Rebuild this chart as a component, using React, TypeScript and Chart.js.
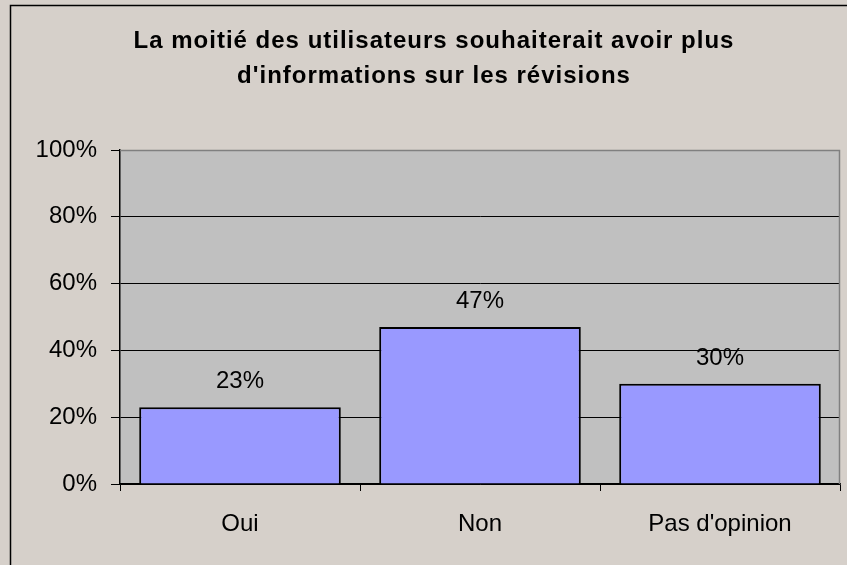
import React, { useEffect, useRef } from "react";
import { Chart, registerables } from "chart.js";

Chart.register(...registerables);

const categories = ["Oui", "Non", "Pas d'opinion"];
const values = [23, 47, 30];
const yTicks = [0, 20, 40, 60, 80, 100];
const titleLines = [
  "La moitié des utilisateurs souhaiterait avoir plus",
  "d'informations sur les révisions",
];

const W = 847;
const H = 565;
const FONT = "'Liberation Sans', Arial, sans-serif";

const framePlugin = {
  id: "frame",
  beforeDraw(chart: any) {
    const { ctx, chartArea } = chart;
    ctx.save();
    ctx.fillStyle = "#D6D0CA";
    ctx.fillRect(0, 0, W, H);
    ctx.fillStyle = "#C0C0C0";
    ctx.fillRect(chartArea.left, chartArea.top, chartArea.right - chartArea.left, chartArea.bottom - chartArea.top);
    ctx.strokeStyle = "#000000";
    ctx.lineWidth = 1.5;
    ctx.beginPath();
    ctx.moveTo(10.5, H);
    ctx.lineTo(10.5, 5.5);
    ctx.lineTo(W, 5.5);
    ctx.stroke();
    // title
    ctx.fillStyle = "#000000";
    ctx.font = `bold 24px ${FONT}`;
    ctx.textAlign = "center";
    ctx.textBaseline = "alphabetic";
    (ctx as any).letterSpacing = "1px";
    titleLines.forEach((line, i) => {
      ctx.fillText(line, 434, 48 + i * 35);
    });
    (ctx as any).letterSpacing = "0px";
    ctx.restore();
  },
  afterDatasetsDraw(chart: any) {
    const { ctx, chartArea } = chart;
    ctx.save();
    ctx.strokeStyle = "#808080";
    ctx.lineWidth = 1.5;
    ctx.beginPath();
    ctx.moveTo(chartArea.left, chartArea.top + 0.5);
    ctx.lineTo(chartArea.right - 0.5, chartArea.top + 0.5);
    ctx.lineTo(chartArea.right - 0.5, chartArea.bottom);
    ctx.stroke();
    const meta = chart.getDatasetMeta(0);
    ctx.fillStyle = "#000000";
    ctx.font = `24px ${FONT}`;
    ctx.textAlign = "center";
    ctx.textBaseline = "alphabetic";
    meta.data.forEach((bar: any, i: number) => {
      ctx.fillText(`${values[i]}%`, bar.x, bar.y - 19);
    });
    ctx.restore();
  },
};

export default function App() {
  const ref = useRef<HTMLCanvasElement | null>(null);
  useEffect(() => {
    if (!ref.current) return;
    const chart = new Chart(ref.current, {
      type: "bar",
      data: {
        labels: categories,
        datasets: [
          {
            data: values,
            backgroundColor: "#9999FF",
            borderColor: "#000000",
            borderWidth: 2,
            barPercentage: 0.84,
            categoryPercentage: 1,
          },
        ],
      },
      options: {
        animation: false,
        responsive: false,
        devicePixelRatio: 1,
        layout: { padding: { left: 26, right: 7, top: 150, bottom: 0 } },
        plugins: {
          legend: { display: false },
          tooltip: { enabled: false },
          title: { display: false },
        },
        scales: {
          x: {
            afterFit: (s: any) => {
              s.height = 81;
            },
            grid: {
              display: true,
              drawOnChartArea: false,
              drawTicks: true,
              tickLength: 7,
              offset: true,
              color: "#000000",
              tickColor: "#000000",
            },
            border: { display: true, color: "#000000", width: 1.5 },
            ticks: {
              color: "#000000",
              font: { family: FONT, size: 24 },
              padding: 19,
            },
          },
          y: {
            min: 0,
            max: 100,
            afterFit: (s: any) => {
              s.width = 94;
            },
            afterBuildTicks: (s: any) => {
              s.ticks = yTicks.map((v) => ({ value: v }));
            },
            grid: {
              color: (c: any) => (c.tick && c.tick.value === 100 ? "#808080" : "#000000"),
              tickColor: "#000000",
              tickLength: 9,
              lineWidth: 1,
            },
            border: { display: true, color: "#000000", width: 1.5 },
            ticks: {
              color: "#000000",
              font: { family: FONT, size: 24 },
              padding: 14,
              callback: (v: any) => `${v}%`,
            },
          },
        },
      },
      plugins: [framePlugin],
    });
    return () => chart.destroy();
  }, []);
  return (
    <div style={{ position: "fixed", left: 0, top: 0, width: W, height: H }}>
      <canvas ref={ref} width={W} height={H} style={{ width: W, height: H, display: "block" }} />
    </div>
  );
}
